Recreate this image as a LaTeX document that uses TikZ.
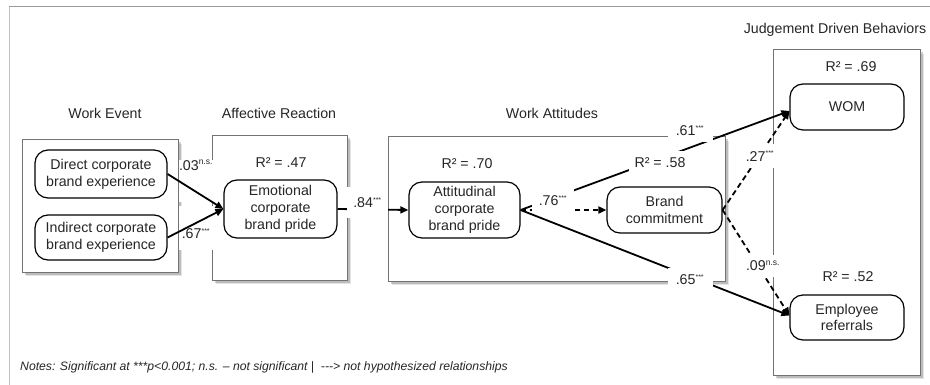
\documentclass[tikz,border=0pt]{standalone}
\usepackage{fontspec}
\setmainfont{Liberation Sans}
\usetikzlibrary{arrows.meta,shadows,calc}
\newcommand{\nsup}{\textsuperscript{\fontsize{8.5}{8.5}\selectfont n.s.}}
\newcommand{\sigs}{\textsuperscript{\fontsize{7}{7}\selectfont ***}}
\begin{document}
\begin{tikzpicture}[x=1pt,y=-1pt,
  txt/.style={font=\fontsize{14.2}{16.8}\selectfont, text=black!85},
  nd/.style={txt, draw=black, line width=1.2pt, rounded corners=13pt, align=center, inner sep=0pt, fill=white},
  grp/.style={draw=black!55, line width=1pt, fill=white,
    drop shadow={shadow xshift=4pt, shadow yshift=-4pt, fill=black, opacity=0.10},
    drop shadow={shadow xshift=2.5pt, shadow yshift=-2.5pt, fill=black, opacity=0.18}},
  ttl/.style={txt, inner sep=0pt},
  lbl/.style={txt, fill=white, inner sep=1.5pt},
  conn/.style={line width=1.8pt, -{Triangle[length=8pt,width=7pt]}},
  dconn/.style={conn, dash pattern=on 5.5pt off 3.5pt},
  ]
\useasboundingbox (0,0) rectangle (930,385);
% frame
\draw[black!40, line width=1.5pt] (9.3,6.7) -- (930,6.7);
\draw[black!25, line width=1.2pt] (9.3,6.7) -- (9.3,385);

% group boxes
\draw[grp] (22,140) rectangle (178,272);
\draw[grp] (212,136) rectangle (347,280);
\draw[grp] (388,137) rectangle (725,281);
\draw[grp] (773,50) rectangle (920,375);

% titles
\node[ttl] (tWE) at (105,113) {Work Event};
\node[ttl] (tAR) at (279,113) {Affective Reaction};
\node[ttl] (tWA) at (552,113) {Work Attitudes};
\node[ttl] (tJD) at (835,30) {Judgement Driven Behaviors};

% nodes
\node[nd, minimum width=132pt, minimum height=48pt] (direct) at (101,174) {Direct corporate\\brand experience};
\node[nd, minimum width=132pt, minimum height=45pt] (indirect) at (101,237.5) {Indirect corporate\\brand experience};
\node[nd, minimum width=113pt, minimum height=58pt] (emo) at (280.5,209) {Emotional\\corporate\\brand pride};
\node[nd, minimum width=111pt, minimum height=56pt] (att) at (464.5,210) {Attitudinal\\corporate\\brand pride};
\node[nd, minimum width=115pt, minimum height=46pt] (bc) at (664.5,210) {Brand\\commitment};
\node[nd, minimum width=114pt, minimum height=46pt] (wom) at (847,107) {WOM};
\node[nd, minimum width=114pt, minimum height=45pt] (emp) at (847,317.5) {Employee\\referrals};

% R squared
\node[lbl] (r47) at (281,163) {R² = .47};
\node[lbl] (r70) at (467,164) {R² = .70};
\node[lbl] (r69) at (851,67) {R² = .69};
\node[lbl] (r52) at (848,277) {R² = .52};

% labels drawn under the first arrows
\node[lbl, anchor=north, text height=10pt, text depth=32pt, minimum width=34pt, inner sep=0pt] (l03) at (196,160) {.03\nsup};
\node[lbl, anchor=south, text height=33pt, text depth=11pt, minimum width=34pt, inner sep=0pt] (l67) at (196,250) {.67\sigs};

% connectors
\draw[conn] (direct.east) -- (emo.west);
\draw[conn] (indirect.east) -- (emo.west);
\draw[conn] (emo.east) -- (att.west);
\draw[dconn] (att.east) -- (bc.west);
\draw[conn] (att.east) -- ([yshift=-4pt]wom.west);
\draw[conn] (att.east) -- ([yshift=2pt]emp.west);
\draw[dconn] (bc.east) -- ([yshift=-4pt]wom.west);
\draw[dconn] (bc.east) -- ([yshift=2pt]emp.west);

% labels on top
\node[lbl, minimum width=41pt, minimum height=31pt, inner sep=0pt] (l84) at (367.5,203) {.84\sigs};
\node[lbl, minimum width=42pt, minimum height=25pt, inner sep=0pt] (l76) at (553,201) {.76\sigs};
\node[lbl, minimum width=62pt, minimum height=24pt, inner sep=0pt] (r58) at (660,163) {R² = .58};
\node[lbl, minimum width=45pt, minimum height=22pt, inner sep=0pt] (l61) at (690,131) {.61\sigs};
\node[lbl, minimum width=45pt, minimum height=24pt, inner sep=0pt] (l65) at (690,280) {.65\sigs};
\node[lbl, minimum width=36pt, minimum height=24pt, inner sep=0pt] (l27) at (760,156) {.27\sigs};
\node[lbl, minimum width=38pt, minimum height=22pt, inner sep=0pt] (l09) at (763,266) {.09\nsup};

% notes
\node[anchor=west, inner sep=0pt, font=\itshape\fontsize{12.2}{14}\selectfont, text=black!85] (notes) at (20,367) {Notes: Significant at ***p<0.001; n.s. – not significant |\ \ -{}-{}-> not hypothesized relationships};
\end{tikzpicture}
\end{document}
